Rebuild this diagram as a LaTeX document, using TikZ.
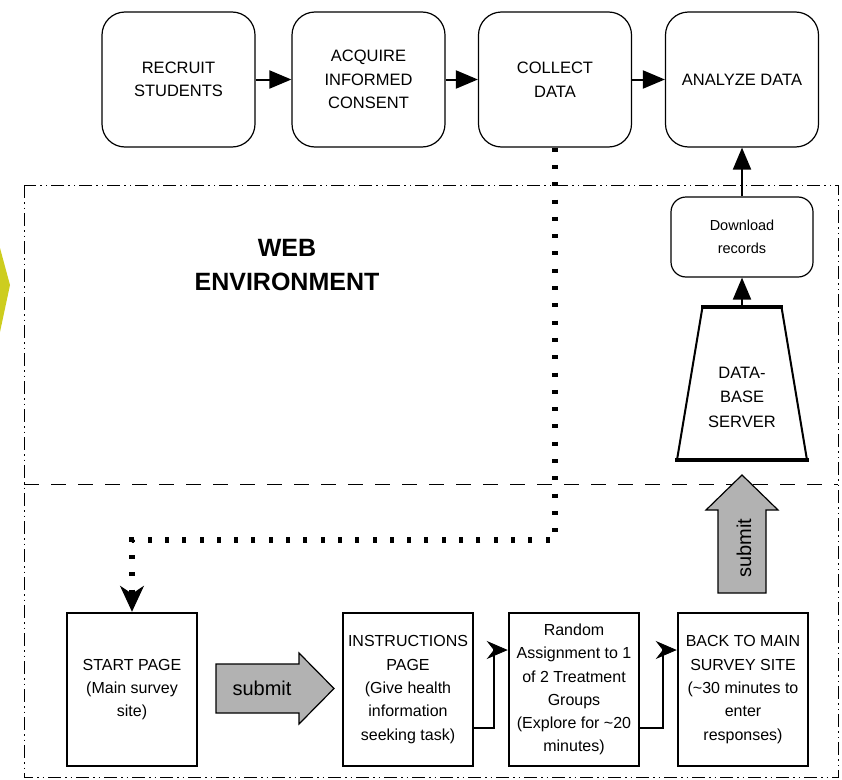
\documentclass[tikz,border=0pt]{standalone}
\usepackage{fontspec}
\setmainfont{Liberation Sans}
\usetikzlibrary{arrows.meta,calc}
\definecolor{subgray}{RGB}{178,178,178}
\definecolor{yel}{RGB}{205,205,30}
\begin{document}
\begin{tikzpicture}[x=1pt,y=-1pt,
 topbox/.style={draw,line width=1.2pt,rounded corners=23pt,minimum width=153pt,minimum height=135pt,align=center,inner sep=0pt,font=\fontsize{16.5}{23.5}\selectfont},
 botbox/.style={draw,line width=2.5pt,minimum width=130pt,minimum height=153pt,align=center,inner sep=0pt,font=\fontsize{16}{23.3}\selectfont},
 toparr/.style={line width=2pt,-{Triangle[length=22pt,width=18pt]}},
 elb/.style={line width=1.2pt,-{Stealth[length=21pt,width=18pt,inset=7pt,line width=0.8pt]}},
 dotline/.style={line width=5.5pt,dash pattern=on 4pt off 13.3pt,-{Stealth[length=26pt,width=24pt,inset=8pt,line width=1pt]}},
 blockarr/.style={draw,line width=1.2pt,fill=subgray},
 sublabel/.style={font=\fontsize{20}{20}\selectfont,inner sep=0pt},
]
\useasboundingbox (0,0) rectangle (842,779);
\fill[white] (0,0) rectangle (842,779);
% partial yellow shape at the left edge
\fill[yel] (0,248) -- (10,285) -- (0,332) -- cycle;
% environment borders
\draw[line width=1pt, dash pattern=on 13pt off 4pt on 1.5pt off 4pt on 1.5pt off 4pt] (24,185) rectangle (838,777);
\draw[line width=1pt, dash pattern=on 15pt off 12pt] (24,484) -- (838,484);
% top process
\node[topbox] (rec) at (178.5,79.5) {RECRUIT\\STUDENTS};
\node[topbox] (acq) at (368.5,79.5) {ACQUIRE\\INFORMED\\CONSENT};
\node[topbox] (col) at (555,79.5) {COLLECT\\DATA};
\node[topbox] (ana) at (742,79.5) {ANALYZE DATA};
\draw[toparr] (rec) -- (acq);
\draw[toparr] (acq) -- (col);
\draw[toparr] (col) -- (ana);
% web environment label
\node[font=\fontsize{25}{34}\selectfont\bfseries,align=center] (web) at (287,265) {WEB\\ENVIRONMENT};
% download records
\node[draw,line width=1.2pt,rounded corners=15pt,minimum width=142pt,minimum height=80pt,align=center,inner sep=0pt,font=\fontsize{14.5}{23}\selectfont] (dl) at (742,237) {Download\\records};
% database server
\node[minimum width=130pt,minimum height=153pt,inner sep=0pt] (db) at (742,383.5) {};
\draw[line width=2pt] (702.5,307) -- (677,460);
\draw[line width=2pt] (781.5,307) -- (807,460);
\draw[line width=3.5pt] (701,307) -- (783,307);
\draw[line width=4pt] (675,460) -- (809,460);
\node[font=\fontsize{16.5}{24.5}\selectfont,align=center,inner sep=0pt] (dbt) at (742,397) {DATA-\\BASE\\SERVER};
\draw[toparr] (db.north) -- (dl.south);
\draw[toparr] (dl.north) -- (ana.south);
% vertical submit arrow
\draw[blockarr] (718,593) -- (718,510) -- (706,510) -- (742,475) -- (778,510) -- (766,510) -- (766,593) -- cycle;
\node[sublabel,rotate=90] (sub2) at (744,548) {submit};
% bottom boxes
\node[botbox] (start) at (132,689.5) {START PAGE\\(Main survey\\site)};
\node[botbox] (instr) at (408,689.5) {INSTRUCTIONS\\PAGE\\(Give health\\information\\seeking task)};
\node[botbox] (rand) at (574,689.5) {Random\\Assignment to 1\\of 2 Treatment\\Groups\\(Explore for \textasciitilde20\\minutes)};
\node[botbox] (back) at (743,689.5) {BACK TO MAIN\\SURVEY SITE\\(\textasciitilde30 minutes to\\enter\\responses)};
% horizontal submit arrow
\draw[blockarr] (216,664) -- (299,664) -- (299,653) -- (334,688.5) -- (299,724) -- (299,713) -- (216,713) -- cycle;
\node[sublabel] (sub1) at (262,688) {submit};
% elbow connectors
\coordinate (e1) at (494,728);
\coordinate (e1u) at (494,650);
\draw[elb] (instr.east |- e1) -- (e1) -- (e1u) -- (rand.west |- e1u);
\coordinate (e2) at (663,728);
\coordinate (e2u) at (663,650);
\draw[elb] (rand.east |- e2) -- (e2) -- (e2u) -- (back.west |- e2u);
% dotted connector
\coordinate (c1) at (132,540);
\draw[dotline] (col.south) -- (col.south |- c1) -- (c1) -- (start.north);
\end{tikzpicture}
\end{document}
